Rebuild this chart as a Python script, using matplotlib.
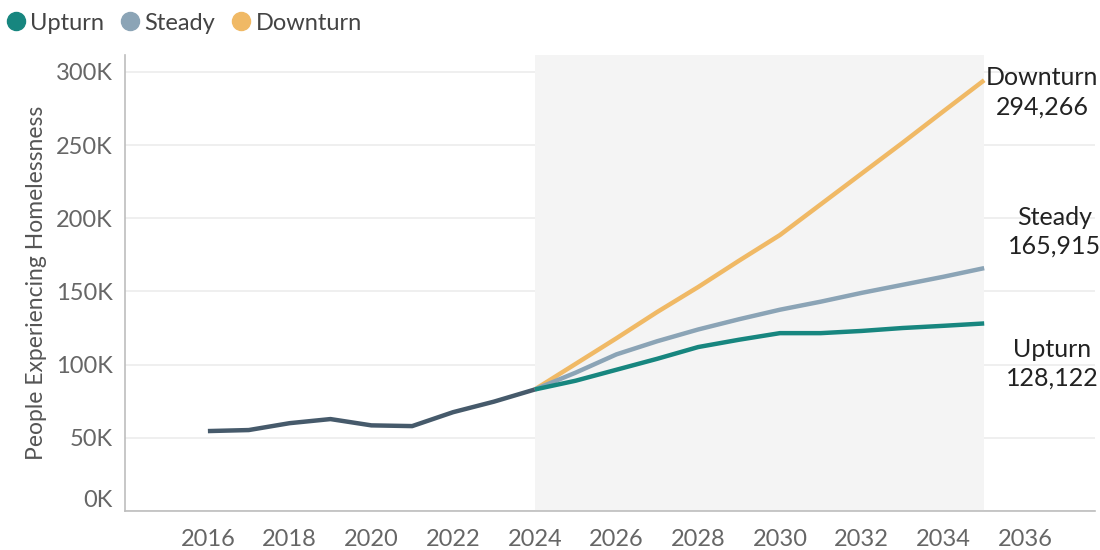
import matplotlib
matplotlib.use("Agg")
import matplotlib.pyplot as plt
from matplotlib.lines import Line2D

plt.rcParams['font.family'] = ['Lato', 'DejaVu Sans']

# ---- data ----
hist_years = [2016, 2017, 2018, 2019, 2020, 2021, 2022, 2023, 2024]
hist_values = [54600, 55300, 60000, 62800, 58500, 58000, 67500, 74700, 83000]

proj_years = [2024, 2025, 2026, 2027, 2028, 2029, 2030, 2031, 2032, 2033, 2034, 2035]
upturn = [83000, 89000, 96500, 104000, 112000, 117000, 121500, 121500, 123000, 125000, 126500, 128122]
steady = [83000, 94500, 107000, 116000, 124000, 131000, 137500, 143000, 149000, 154500, 160000, 165915]
downturn = [83000, 100500, 118000, 136000, 153000, 171000, 188500, 209500, 230500, 251500, 273000, 294266]

series_names = ["Upturn", "Steady", "Downturn"]
series_colors = ["#17867f", "#8ba4b6", "#f0b965"]
hist_color = "#465a6b"

y_ticks = [0, 50000, 100000, 150000, 200000, 250000, 300000]
y_tick_labels = ["0K", "50K", "100K", "150K", "200K", "250K", "300K"]
x_ticks = [2016, 2018, 2020, 2022, 2024, 2026, 2028, 2030, 2032, 2034, 2036]
shade_start, shade_end = 2024, 2035

# ---- figure ----
fig = plt.figure(figsize=(11, 5.5), dpi=100)
ax = fig.add_axes([0.1136, 0.0709, 0.8814, 0.8291])

ax.set_xlim(2013.97, 2037.7)
ax.set_ylim(0, 311500)
ax.set_axisbelow(True)
ax.grid(axis='y', color='#ececec', linewidth=1.2, zorder=0.5)
ax.grid(axis='x', visible=False)

ax.axvspan(shade_start, shade_end, color='#f4f4f4', zorder=1, linewidth=0)

lw = 3.2
ax.plot(proj_years, downturn, color=series_colors[2], lw=lw, zorder=3, solid_capstyle='butt')
ax.plot(proj_years, steady, color=series_colors[1], lw=lw, zorder=3.1, solid_capstyle='butt')
ax.plot(proj_years, upturn, color=series_colors[0], lw=lw, zorder=3.2, solid_capstyle='butt')
ax.plot(hist_years, hist_values, color=hist_color, lw=lw, zorder=3.3, solid_capstyle='butt')

ax.set_yticks(y_ticks)
ax.set_yticklabels(y_tick_labels)
ax.set_xticks(x_ticks)
ax.set_xticklabels([str(x) for x in x_ticks])
ax.tick_params(axis='both', length=0, labelsize=17, labelcolor='#666666')
ax.tick_params(axis='y', pad=9)
ax.tick_params(axis='x', pad=13)
ax.yaxis.get_major_ticks()[0].label1.set_va('bottom')

for s in ['top', 'right']:
    ax.spines[s].set_visible(False)
for s in ['left', 'bottom']:
    ax.spines[s].set_color('#bdbdbd')
    ax.spines[s].set_linewidth(1.2)
    ax.spines[s].set_zorder(2.5)

ax.set_ylabel("People Experiencing Homelessness", fontsize=16.5, color='#555555', labelpad=6)

# end labels
ends = [(downturn[-1], "Downturn", (58, -12)),
        (steady[-1], "Steady", (70, 36)),
        (upturn[-1], "Upturn", (68, -40))]
for val, name, off in ends:
    ax.annotate(f"{name}\n{val:,}", xy=(proj_years[-1], val), xytext=off,
                textcoords='offset pixels', ha='center', va='center',
                fontsize=18, color='#222222', linespacing=1.3,
                annotation_clip=False, zorder=5)

# legend
handles = [Line2D([], [], linestyle='none', marker='o', markersize=13,
                  markerfacecolor=c, markeredgecolor=c) for c in series_colors]
fig.legend(handles, series_names, loc='center left', bbox_to_anchor=(0.004, 0.958),
           ncol=3, frameon=False, fontsize=17, handletextpad=0.1,
           columnspacing=0.6, handlelength=1.0, labelcolor='#444444',
           borderaxespad=0, borderpad=0)

fig.savefig("out.png", dpi=100)
